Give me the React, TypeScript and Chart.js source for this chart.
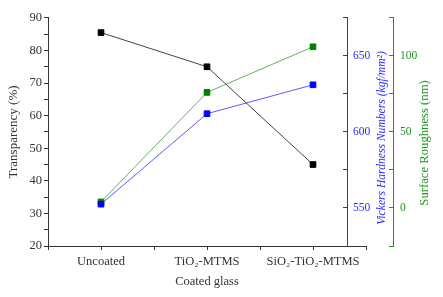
import React, { useEffect, useRef } from 'react';
import { Chart, registerables } from 'chart.js';

Chart.register(...registerables);

const categories = ['Uncoated', 'TiO₂-MTMS', 'SiO₂-TiO₂-MTMS'];
const transparency = [85.5, 75, 45];
const hardness = [552.5, 612, 631];
const roughness = [4, 76, 106];

const transparencyRange = [20, 90];
const hardnessRange = [525, 675];
const roughnessRange = [-25, 125];

const xTitle = 'Coated glass';
const leftTitle = 'Transparency (%)';
const blueTitle = 'Vickers Hardness Numbers (kgf/mm²)';
const greenTitle = 'Surface Roughness (nm)';

const BLUE_AXIS_AT = 2.32;
const SERIF = "'Liberation Serif', 'Times New Roman', serif";
const BLUE = '#2b2bff';
const GREEN = '#1e961e';
const DARK = '#333333';

const placePlugin = {
  id: 'placeAxes',
  afterLayout(chart: any) {
    const x = chart.scales.x;
    const b = chart.scales.yB;
    const w = b.right - b.left;
    b.left = Math.round(x.getPixelForValue(BLUE_AXIS_AT));
    b.right = b.left + w;
  },
  afterDraw(chart: any) {
    const ctx = chart.ctx;
    const { top, bottom } = chart.chartArea;
    const mid = (top + bottom) / 2;
    const b = chart.scales.yB;
    const g = chart.scales.yG;
    ctx.save();
    ctx.textAlign = 'center';
    ctx.textBaseline = 'middle';
    ctx.translate(b.left + 35, mid + 6);
    ctx.rotate(-Math.PI / 2);
    ctx.font = `italic 11.6px ${SERIF}`;
    ctx.fillStyle = BLUE;
    ctx.fillText(blueTitle, 0, 0);
    ctx.restore();
    ctx.save();
    ctx.textAlign = 'center';
    ctx.textBaseline = 'middle';
    ctx.translate(g.left + 32, mid + 11);
    ctx.rotate(-Math.PI / 2);
    ctx.font = `12.7px ${SERIF}`;
    ctx.fillStyle = GREEN;
    ctx.fillText(greenTitle, 0, 0);
    ctx.restore();
  },
};

function pts(vals: number[]) {
  return vals.map((v, i) => ({ x: i, y: v }));
}

export default function App() {
  const ref = useRef<HTMLCanvasElement>(null);
  useEffect(() => {
    if (!ref.current) return;
    const chart = new Chart(ref.current, {
      type: 'line',
      data: {
        datasets: [
          {
            label: 'Transparency',
            data: pts(transparency),
            yAxisID: 'y',
            borderColor: '#444444',
            backgroundColor: '#000000',
            pointBackgroundColor: '#000000',
            pointBorderColor: '#000000',
            borderWidth: 1,
            pointStyle: 'rect',
            pointRadius: 4,
            pointBorderWidth: 1,
            tension: 0,
          },
          {
            label: 'Hardness',
            data: pts(hardness),
            yAxisID: 'yB',
            borderColor: '#5a5aff',
            backgroundColor: '#0000ff',
            pointBackgroundColor: '#0000ff',
            pointBorderColor: '#0000ff',
            borderWidth: 1,
            pointStyle: 'rect',
            pointRadius: 4,
            pointBorderWidth: 1,
            tension: 0,
          },
          {
            label: 'Roughness',
            data: pts(roughness),
            yAxisID: 'yG',
            borderColor: '#5fb35f',
            backgroundColor: '#008000',
            pointBackgroundColor: '#008000',
            pointBorderColor: '#008000',
            borderWidth: 1,
            pointStyle: 'rect',
            pointRadius: 4,
            pointBorderWidth: 1,
            tension: 0,
          },
        ],
      },
      options: {
        animation: false,
        responsive: false,
        maintainAspectRatio: false,
        layout: { padding: { top: 14, left: 0, right: 0, bottom: 0 } },
        plugins: { legend: { display: false }, tooltip: { enabled: false } },
        scales: {
          x: {
            type: 'linear',
            min: -0.5,
            max: categories.length - 0.5,
            afterFit: (s: any) => { s.height = 51; },
            afterBuildTicks: (s: any) => {
              const t = [];
              for (let v = -0.5; v <= categories.length - 0.5 + 1e-9; v += 0.5) t.push({ value: v });
              s.ticks = t;
            },
            ticks: {
              autoSkip: false,
              maxRotation: 0,
              padding: 4,
              color: DARK,
              font: { family: SERIF, size: 12.5 },
              callback: (v: any) => (Number.isInteger(v) ? categories[v] : ''),
            },
            grid: { drawOnChartArea: false, drawTicks: true, tickLength: 4, color: DARK },
            border: { display: true, color: DARK, width: 1 },
            title: {
              display: true,
              text: xTitle,
              color: DARK,
              font: { family: SERIF, size: 12.5 },
              padding: { top: 0, bottom: 8 },
            },
          },
          y: {
            position: 'left',
            min: transparencyRange[0],
            max: transparencyRange[1],
            afterFit: (s: any) => { s.width = 48; },
            ticks: {
              stepSize: 5,
              autoSkip: false,
              padding: 2,
              color: DARK,
              font: { family: SERIF, size: 12.5 },
              callback: (v: any) => (v % 10 === 0 ? String(v) : ''),
            },
            grid: { drawOnChartArea: false, drawTicks: true, tickLength: 4, color: DARK },
            border: { display: true, color: DARK, width: 1 },
            title: {
              display: true,
              text: leftTitle,
              color: DARK,
              font: { family: SERIF, size: 13 },
              padding: { top: 6, bottom: 0 },
            },
          },
          yB: {
            position: 'right',
            weight: 1,
            min: hardnessRange[0],
            max: hardnessRange[1],
            afterFit: (s: any) => { s.width = 27; },
            ticks: {
              stepSize: 25,
              autoSkip: false,
              padding: 10,
              color: BLUE,
              font: { family: SERIF, size: 11.5 },
              callback: (v: any) => (v % 50 === 0 ? String(v) : ''),
            },
            grid: { drawOnChartArea: false, drawTicks: true, tickLength: -4, color: BLUE },
            border: { display: true, color: BLUE, width: 1 },
          },
          yG: {
            position: 'right',
            weight: 2,
            min: roughnessRange[0],
            max: roughnessRange[1],
            afterFit: (s: any) => { s.width = 50; },
            ticks: {
              stepSize: 25,
              autoSkip: false,
              padding: 11,
              color: GREEN,
              font: { family: SERIF, size: 11.5 },
              callback: (v: any) => (v % 50 === 0 ? String(v) : ''),
            },
            grid: { drawOnChartArea: false, drawTicks: true, tickLength: -4, color: GREEN },
            border: { display: true, color: GREEN, width: 1 },
          },
        },
      } as any,
      plugins: [placePlugin],
    });
    return () => chart.destroy();
  }, []);
  return (
    <div style={{ position: 'fixed', left: 0, top: 0, width: 443, height: 297, background: '#fff' }}>
      <canvas ref={ref} width={443} height={297} style={{ width: 443, height: 297 }} />
    </div>
  );
}
